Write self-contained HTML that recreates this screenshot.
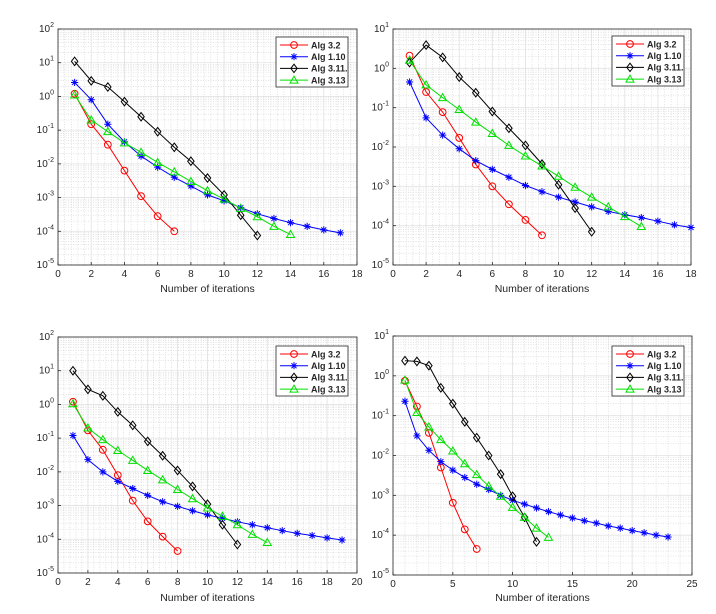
<!DOCTYPE html>
<html><head><meta charset="utf-8">
<style>
html,body{margin:0;padding:0;background:#fff;}
svg{display:block;font-family:"Liberation Sans",Arial,sans-serif;}
</style></head>
<body>
<svg id="fig" width="716" height="614" viewBox="0 0 716 614" xmlns="http://www.w3.org/2000/svg"></svg>
<script>
// ---- data ----
const seriesNames = ["Alg 3.2","Alg 1.10","Alg 3.11.","Alg 3.13"];
const p1Red   = [1.2,0.15,0.037,0.0063,0.0011,0.00028,0.0001];
const p1Blue  = [2.6,0.8,0.15,0.045,0.017,0.008,0.004,0.0022,0.0012,0.0008,0.0005,0.00033,0.00024,0.00018,0.00014,0.00011,0.00009];
const p1Black = [11,2.9,1.9,0.7,0.25,0.09,0.031,0.012,0.0038,0.0012,0.0003,0.000075];
const p1Green = [1.1,0.2,0.09,0.042,0.022,0.011,0.0058,0.003,0.0016,0.0009,0.00048,0.00027,0.00014,0.00008];

const p2Red   = [2.1,0.25,0.077,0.017,0.0036,0.001,0.00035,0.00014,0.000057];
const p2Blue  = [0.45,0.055,0.02,0.009,0.0045,0.0027,0.0017,0.00105,0.00073,0.00053,0.0004,0.0003,0.00023,0.00019,0.00016,0.00013,0.000105,0.00009];
const p2Black = [1.4,3.9,1.9,0.6,0.24,0.08,0.03,0.011,0.0037,0.0011,0.00028,0.00007];
const p2Green = [1.6,0.38,0.18,0.09,0.043,0.022,0.011,0.0059,0.0033,0.0018,0.00095,0.00053,0.0003,0.00017,0.000095];

const p3Red   = [1.2,0.17,0.045,0.008,0.0014,0.00034,0.00012,0.000045];
const p3Blue  = [0.12,0.023,0.01,0.0052,0.0032,0.002,0.0013,0.00095,0.0007,0.00053,0.00042,0.00033,0.00027,0.00022,0.00018,0.00015,0.00013,0.00011,0.000095];
const p3Black = [10,2.8,1.8,0.6,0.24,0.08,0.03,0.011,0.0037,0.0011,0.00027,0.00007];
const p3Green = [1.05,0.2,0.09,0.043,0.022,0.011,0.0058,0.003,0.0016,0.00085,0.00048,0.00027,0.00014,0.00008];

const p4Red   = [0.75,0.17,0.037,0.005,0.00065,0.00014,0.000045];
const p4Blue  = [0.23,0.031,0.0135,0.007,0.0043,0.0028,0.0019,0.0014,0.001,0.00075,0.0006,0.00048,0.00039,0.00032,0.00027,0.00023,0.0002,0.00017,0.00015,0.00013,0.000115,0.0001,0.00009];
const p4Black = [2.4,2.3,1.8,0.5,0.2,0.07,0.028,0.01,0.0034,0.00095,0.00028,0.000068];
const p4Green = [0.78,0.12,0.052,0.025,0.013,0.0062,0.0033,0.0017,0.00095,0.0005,0.00028,0.00015,0.000088];

const xTicks1 = [0,2,4,6,8,10,12,14,16,18];
const xTicks2 = [0,2,4,6,8,10,12,14,16,18];
const xTicks3 = [0,2,4,6,8,10,12,14,16,18,20];
const xTicks4 = [0,5,10,15,20,25];
const yExp1 = [-5,-4,-3,-2,-1,0,1,2];
const yExp2 = [-5,-4,-3,-2,-1,0,1];

const NS="http://www.w3.org/2000/svg";
const svg=document.getElementById('fig');
function mk(tag,attrs,parent){const e=document.createElementNS(NS,tag);for(const k in attrs)e.setAttribute(k,attrs[k]);(parent||svg).appendChild(e);return e;}

const colors=["#ff0000","#0000ff","#000000","#00e000"];
const markers=["circle","star","diamond","triangle"];

function marker(g,type,x,y,col){
  if(type==="circle"){const m=mk('circle',{cx:x,cy:y,r:3.4,fill:'none',stroke:col,'stroke-width':1},g);return m;}
  if(type==="star"){const s=3.6;const d=`M${x-s},${y}H${x+s}M${x},${y-s}V${y+s}M${x-s*0.7},${y-s*0.7}L${x+s*0.7},${y+s*0.7}M${x-s*0.7},${y+s*0.7}L${x+s*0.7},${y-s*0.7}`;return mk('path',{d:d,stroke:col,'stroke-width':1,fill:'none'},g);}
  if(type==="diamond"){const s=4.2;return mk('path',{d:`M${x},${y-s}L${x+3.2},${y}L${x},${y+s}L${x-3.2},${y}Z`,fill:'none',stroke:col,'stroke-width':1},g);}
  const s=4;return mk('path',{d:`M${x},${y-s}L${x+s},${y+s*0.75}L${x-s},${y+s*0.75}Z`,fill:'none',stroke:col,'stroke-width':1},g);
}

function plot(cfg){
  const {id,L,R,T,B,xmax,xTicks,xMinorStep,yExps,data,leg,xlabY}=cfg;
  const ymin=yExps[0], ymax=yExps[yExps.length-1];
  const X=v=>L+(v/xmax)*(R-L);
  const Y=v=>B-(Math.log10(v)-ymin)/(ymax-ymin)*(B-T);
  const g=mk('g',{});  
  const grid=mk('g',{},g);  
  // minor y grid
  for(let e=ymin;e<ymax;e++)for(let k=2;k<=9;k++){const y=Y(k*Math.pow(10,e));mk('line',{x1:L,x2:R,y1:y,y2:y,stroke:'#d0d0d0','stroke-width':0.6,'stroke-dasharray':'1,1.5'},grid);}
  for(let v=xMinorStep;v<xmax;v+=xMinorStep){const x=X(v);mk('line',{x1:x,x2:x,y1:T,y2:B,stroke:'#d0d0d0','stroke-width':0.6,'stroke-dasharray':'1,1.5'},grid);}
  yExps.forEach(e=>{const y=Y(Math.pow(10,e));mk('line',{x1:L,x2:R,y1:y,y2:y,stroke:'#e2e2e2','stroke-width':0.8},grid);});
  xTicks.forEach(v=>{const x=X(v);mk('line',{x1:x,x2:x,y1:T,y2:B,stroke:'#e2e2e2','stroke-width':0.8},grid);});
  // axes box
  const box=mk('rect',{x:L,y:T,width:R-L,height:B-T,fill:'none',stroke:'#262626','stroke-width':0.8},g);
   
  // ticks + labels
  xTicks.forEach(v=>{const x=X(v);
    mk('line',{x1:x,x2:x,y1:B,y2:B-3,stroke:'#262626','stroke-width':0.8},g);
    const t=mk('text',{x:x,y:B+12,'font-size':10,'text-anchor':'middle',fill:'#262626'},g);t.textContent=v;
    
    });
  yExps.forEach(e=>{const y=Y(Math.pow(10,e));
    mk('line',{x1:L,x2:L+3,y1:y,y2:y,stroke:'#262626','stroke-width':0.8},g);
    const t=mk('text',{x:L-4,y:y+3,'font-size':10,'text-anchor':'end',fill:'#262626'},g);
    
    
    const a=mk('tspan',{},t);a.textContent='10';
    const b=mk('tspan',{dy:-5,'font-size':7},b0=t);b.textContent=e;
    // compensate anchor: shift whole label
  });
  const xl=mk('text',{x:(L+R)/2,y:xlabY,'font-size':10.5,'text-anchor':'middle',fill:'#262626'},g);
  xl.textContent='Number of iterations';
  
  
  // series
  data.forEach((arr,si)=>{
    const sg=mk('g',{},g);
    
    
    const pts=arr.map((v,i)=>[X(i+1),Y(v)]);
    mk('polyline',{points:pts.map(p=>p.join(',')).join(' '),fill:'none',stroke:colors[si],'stroke-width':1},sg);
    pts.forEach(p=>{const m=marker(sg,markers[si],p[0],p[1],colors[si]);
      
      });
  });
  // legend
  const lg=mk('g',{},g);
  
  
  mk('rect',{x:leg[0],y:leg[1],width:72,height:50,fill:'#fff',stroke:'#262626','stroke-width':0.8},lg);
  seriesNames.forEach((n,si)=>{
    const y=leg[1]+8+si*11.7;
    const e=mk('g',{},lg);
    
    
    mk('line',{x1:leg[0]+4,x2:leg[0]+32,y1:y,y2:y,stroke:colors[si],'stroke-width':1},e);
    marker(e,markers[si],leg[0]+18,y,colors[si]);
    const t=mk('text',{x:leg[0]+35,y:y+3.3,'font-size':9,'font-weight':'bold',fill:'#262626'},e);t.textContent=n;
  });
}

plot({id:'plot-top-left',L:58,R:357,T:29,B:265,xmax:18,xTicks:xTicks1,xMinorStep:0.4,yExps:yExp1,data:[p1Red,p1Blue,p1Black,p1Green],leg:[276,37],xlabY:292});
plot({id:'plot-top-right',L:393,R:691,T:29,B:265,xmax:18,xTicks:xTicks2,xMinorStep:0.4,yExps:yExp2,data:[p2Red,p2Blue,p2Black,p2Green],leg:[612,36],xlabY:292});
plot({id:'plot-bottom-left',L:58,R:357,T:337,B:573,xmax:20,xTicks:xTicks3,xMinorStep:0.4,yExps:yExp1,data:[p3Red,p3Blue,p3Black,p3Green],leg:[276,346],xlabY:601});
plot({id:'plot-bottom-right',L:393,R:692,T:336,B:575,xmax:25,xTicks:xTicks4,xMinorStep:1,yExps:yExp2,data:[p4Red,p4Blue,p4Black,p4Green],leg:[612,346],xlabY:601});
</script>
</body></html>
